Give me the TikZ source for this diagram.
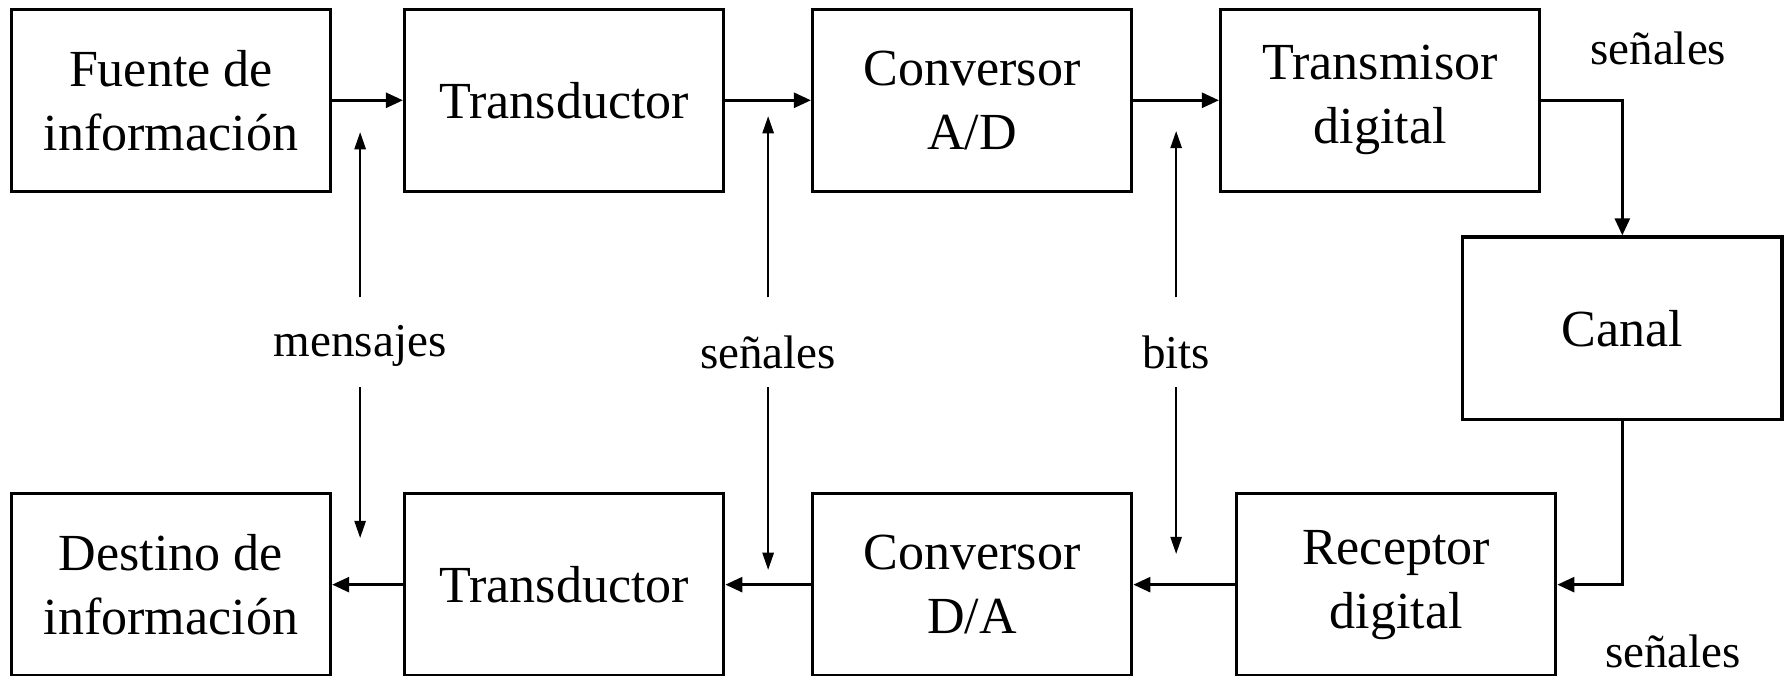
\documentclass[tikz,border=0pt]{standalone}
\usepackage{fontspec}
\setmainfont{Liberation Serif}
\usetikzlibrary{arrows.meta}
\tikzset{
  bloque/.style={draw, line width=1.6pt, minimum width=5.6cm, minimum height=3.2cm, align=center, font=\fontsize{26}{32}\selectfont},
  etiqueta/.style={anchor=base, font=\fontsize{23.5}{28}\selectfont},
  flujo/.style={line width=1.6pt, -{Triangle[length=0.3cm,width=0.26cm]}},
  senal/.style={line width=0.75pt, -{Triangle[length=0.3cm,width=0.2cm]}},
}

\begin{document}
\begin{tikzpicture}%
\useasboundingbox (0,0) rectangle (31.36,11.86);%
% fila superior
\node[bloque] (fuente) at (3.0,10.1) {Fuente de\\información};%
\node[bloque] (transA) at (9.9,10.1) {Transductor};%
\node[bloque] (convAD) at (17.06,10.1) {Conversor\\A/D};%
\node[bloque] (transm) at (24.22,10.1) {Transmisor\\digital};%
\node[bloque] (canal) at (28.47,6.1) {Canal};%
% fila inferior
\node[bloque] (destino) at (3.0,1.6) {Destino de\\información};%
\node[bloque] (transB) at (9.9,1.6) {Transductor};%
\node[bloque] (convDA) at (17.06,1.6) {Conversor\\D/A};%
\node[bloque] (recep) at (24.5,1.6) {Receptor\\digital};%
% etiquetas
\node[etiqueta] (mens) at (6.32,5.6) {mensajes};%
\node[etiqueta] (senA) at (13.48,5.4) {señales};%
\node[etiqueta] (bits) at (20.64,5.4) {bits};%
\node[etiqueta] (senTx) at (29.1,10.72) {señales};%
\node[etiqueta] (senRx) at (29.36,0.14) {señales};%
% extremos de las flechas verticales
\coordinate (mA) at (6.32,6.64);%
\coordinate (mB) at (6.32,9.54);%
\coordinate (mC) at (6.32,5.06);%
\coordinate (mD) at (6.32,2.42);%
\coordinate (sA) at (13.48,6.64);%
\coordinate (sB) at (13.48,9.82);%
\coordinate (sC) at (13.48,5.06);%
\coordinate (sD) at (13.48,1.86);%
\coordinate (bA) at (20.64,6.64);%
\coordinate (bB) at (20.64,9.56);%
\coordinate (bC) at (20.64,5.06);%
\coordinate (bD) at (20.64,2.14);%
% flujo principal
\draw[flujo] (fuente) -- (transA);%
\draw[flujo] (transA) -- (convAD);%
\draw[flujo] (convAD) -- (transm);%
\draw[flujo] (transm.east) -| (canal.north);%
\draw[flujo] (canal.south) |- (recep.east);%
\draw[flujo] (recep) -- (convDA);%
\draw[flujo] (convDA) -- (transB);%
\draw[flujo] (transB) -- (destino);%
% flechas de las etiquetas
\draw[senal] (mA) -- (mB);%
\draw[senal] (mC) -- (mD);%
\draw[senal] (sA) -- (sB);%
\draw[senal] (sC) -- (sD);%
\draw[senal] (bA) -- (bB);%
\draw[senal] (bC) -- (bD);%
\end{tikzpicture}
\end{document}
